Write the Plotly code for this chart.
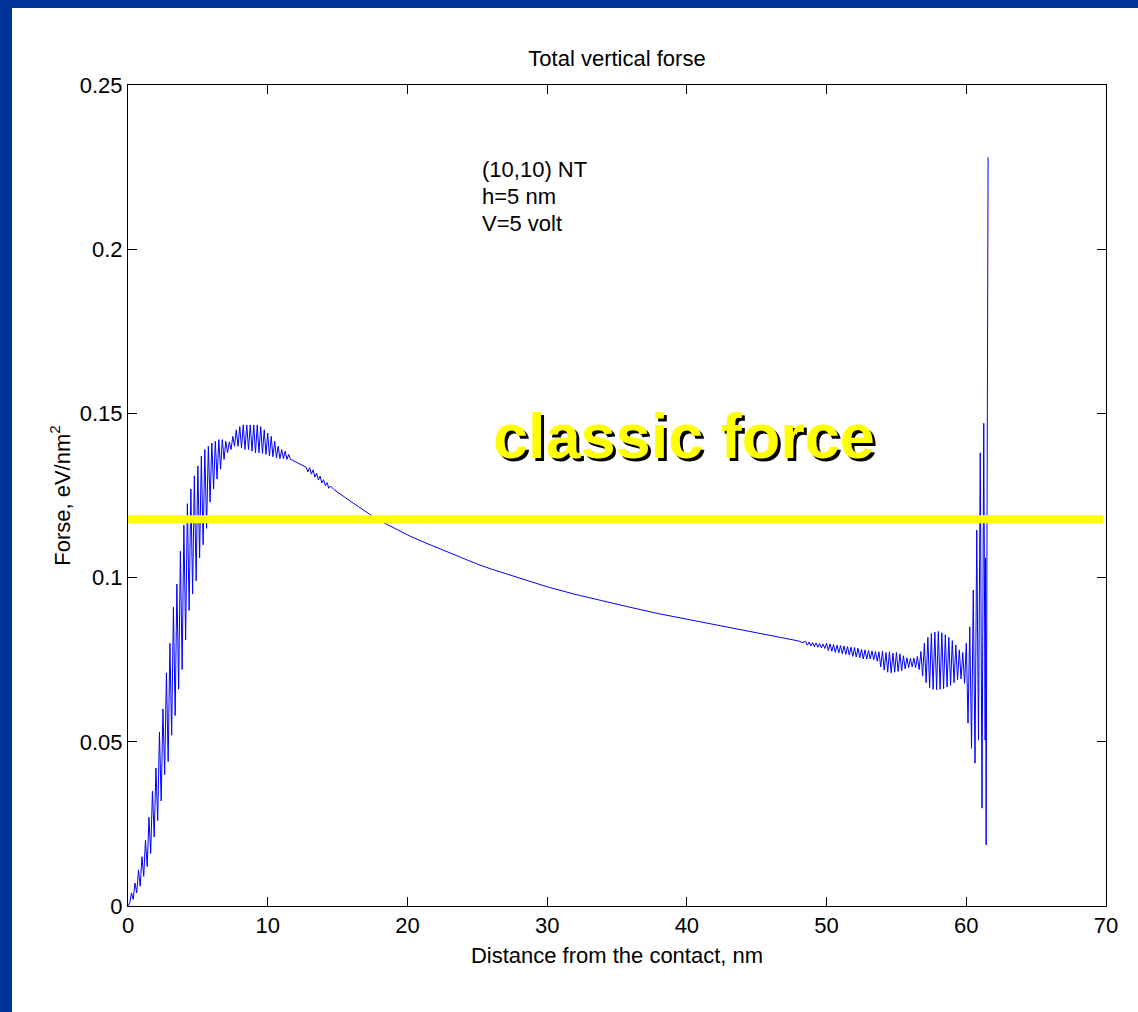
import plotly.graph_objects as go

# ---------------- data ----------------
distance_nm = [
    0.000, 0.125, 0.250, 0.375, 0.500, 0.625, 0.750, 0.875, 1.000, 1.125,
    1.250, 1.375, 1.500, 1.625, 1.750, 1.875, 2.000, 2.125, 2.250, 2.375,
    2.500, 2.625, 2.750, 2.875, 3.000, 3.125, 3.250, 3.375, 3.500, 3.625,
    3.750, 3.875, 4.000, 4.125, 4.250, 4.375, 4.500, 4.625, 4.750, 4.875,
    5.000, 5.125, 5.250, 5.375, 5.500, 5.625, 5.750, 5.875, 6.000, 6.125,
    6.250, 6.375, 6.500, 6.625, 6.750, 6.875, 7.000, 7.125, 7.250, 7.375,
    7.500, 7.625, 7.750, 7.875, 8.000, 8.125, 8.250, 8.375, 8.500, 8.625,
    8.750, 8.875, 9.000, 9.125, 9.250, 9.375, 9.500, 9.625, 9.750, 9.875,
    10.000, 10.125, 10.250, 10.375, 10.500, 10.625, 10.750, 10.875, 11.000,
    11.125, 11.250, 11.375, 11.500, 11.625, 11.750, 12.000, 12.250, 12.500,
    12.750, 12.875, 13.000, 13.125, 13.250, 13.375, 13.500, 13.625, 13.750,
    13.875, 14.000, 14.125, 14.250, 14.375, 14.500, 14.750, 15.000, 15.500,
    16.000, 16.500, 17.000, 17.500, 18.000, 19.000, 20.000, 21.000, 22.000,
    23.000, 24.000, 25.000, 26.000, 27.000, 28.000, 30.000, 32.000, 34.000,
    36.000, 38.000, 40.000, 42.000, 44.000, 45.000, 46.000, 47.000, 47.500,
    48.000, 48.250,
    48.500, 48.625, 48.750, 48.875, 49.000, 49.125, 49.250, 49.375, 49.500,
    49.625, 49.750, 49.875, 50.000, 50.125, 50.250, 50.375, 50.500, 50.625,
    50.750, 50.875, 51.000, 51.125, 51.250, 51.375, 51.500, 51.625, 51.750,
    51.875, 52.000, 52.125, 52.250, 52.375, 52.500, 52.625, 52.750, 52.875,
    53.000, 53.125, 53.250, 53.375, 53.500, 53.625, 53.750, 53.875, 54.000,
    54.125, 54.250, 54.375, 54.500, 54.625, 54.750, 54.875, 55.000, 55.125,
    55.250, 55.375, 55.500, 55.625, 55.750, 55.875, 56.000, 56.125, 56.250,
    56.375, 56.500, 56.625, 56.750, 56.875, 57.000, 57.125, 57.250, 57.375,
    57.500, 57.625, 57.750, 57.875, 58.000, 58.125, 58.250, 58.375, 58.500,
    58.625, 58.750, 58.875, 59.000, 59.125, 59.250, 59.375, 59.500, 59.625,
    59.750, 59.875, 60.000, 60.125, 60.250, 60.375, 60.500, 60.625, 60.750,
    60.875, 61.000, 61.125, 61.250, 61.350, 61.380, 61.420, 61.500, 61.530,
    61.560,
]

force = [
    0.0000, 0.0010, 0.0040, 0.0020, 0.0070, 0.0040, 0.0110, 0.0060, 0.0150, 0.0090,
    0.0200, 0.0120, 0.0270, 0.0160, 0.0350, 0.0210, 0.0420, 0.0260, 0.0530, 0.0320,
    0.0600, 0.0400, 0.0710, 0.0440, 0.0800, 0.0520, 0.0910, 0.0580, 0.0980, 0.0660,
    0.1080, 0.0720, 0.1160, 0.0810, 0.1225, 0.0900, 0.1270, 0.0950, 0.1310, 0.0990,
    0.1340, 0.1060, 0.1370, 0.1100, 0.1390, 0.1150, 0.1400, 0.1230, 0.1410, 0.1270,
    0.1415, 0.1300, 0.1420, 0.1330, 0.1420, 0.1360, 0.1415, 0.1380, 0.1413, 0.1390,
    0.1430, 0.1400, 0.1450, 0.1400, 0.1460, 0.1395, 0.1465, 0.1390, 0.1465, 0.1390,
    0.1465, 0.1385, 0.1465, 0.1380, 0.1465, 0.1380, 0.1460, 0.1378, 0.1450, 0.1375,
    0.1440, 0.1370, 0.1430, 0.1368, 0.1415, 0.1365, 0.1400, 0.1362, 0.1390,
    0.1362, 0.1385, 0.1360, 0.1375, 0.1360, 0.1358, 0.1352, 0.1346, 0.1340,
    0.1336, 0.1322, 0.1335, 0.1315, 0.1328, 0.1306, 0.1318, 0.1297, 0.1309,
    0.1288, 0.1298, 0.1280, 0.1289, 0.1272, 0.1279, 0.1268, 0.1260, 0.1245,
    0.1230, 0.1216, 0.1201, 0.1187, 0.1174, 0.1151, 0.1130, 0.1111, 0.1093,
    0.1075, 0.1058, 0.1041, 0.1026, 0.1012, 0.0998, 0.0972, 0.0949, 0.0928,
    0.0909, 0.0890, 0.0873, 0.0857, 0.0840, 0.0831, 0.0823, 0.0815, 0.0811,
    0.0807, 0.0802,
    0.0806, 0.0794, 0.0804, 0.0792, 0.0802, 0.0790, 0.0801, 0.0788, 0.0799,
    0.0786, 0.0798, 0.0784, 0.0800, 0.0778, 0.0798, 0.0776, 0.0796, 0.0772,
    0.0794, 0.0771, 0.0793, 0.0768, 0.0792, 0.0766, 0.0790, 0.0764, 0.0788,
    0.0760, 0.0787, 0.0758, 0.0785, 0.0756, 0.0782, 0.0752, 0.0780, 0.0752,
    0.0778, 0.0752, 0.0777, 0.0750, 0.0775, 0.0745, 0.0774, 0.0728, 0.0776,
    0.0718, 0.0772, 0.0712, 0.0774, 0.0710, 0.0770, 0.0712, 0.0772, 0.0714,
    0.0768, 0.0716, 0.0762, 0.0722, 0.0756, 0.0726, 0.0754, 0.0728, 0.0755,
    0.0726, 0.0760, 0.0720, 0.0775, 0.0700, 0.0800, 0.0680, 0.0818, 0.0665,
    0.0830, 0.0660, 0.0834, 0.0658, 0.0836, 0.0660, 0.0832, 0.0662, 0.0826,
    0.0667, 0.0818, 0.0672, 0.0808, 0.0680, 0.0795, 0.0688, 0.0780, 0.0692,
    0.0772, 0.0678, 0.0800, 0.0557, 0.0850, 0.0480, 0.0962, 0.0435, 0.1145,
    0.0505, 0.1380, 0.0298, 0.1470, 0.0505, 0.1060, 0.0186, 0.1990, 0.2180,
    0.2280,
]

classic_force_level = 0.1178
classic_force_span = [0.0, 69.8]

x_ticks = [0, 10, 20, 30, 40, 50, 60, 70]
x_tick_labels = ["0", "10", "20", "30", "40", "50", "60", "70"]
y_ticks = [0, 0.05, 0.10, 0.15, 0.20, 0.25]
y_tick_labels = ["0", "0.05", "0.1", "0.15", "0.2", "0.25"]

title_text = "Total vertical forse"
x_title = "Distance from the contact, nm"
y_title = "Forse, eV/nm<sup>2</sup>"
info_lines = ["(10,10) NT", "h=5 nm", "V=5 volt"]
info_line_y = [0.2244, 0.2161, 0.2079]
big_label = "classic force"

# ---------------- figure ----------------
W, H = 1138, 1012
ML, MR, MT, MB = 128, 32, 85, 106
PW, PH = W - ML - MR, H - MT - MB
FONT = "Arial, Liberation Sans, sans-serif"
FS = 22
BORDER = "#003399"

fig = go.Figure()
fig.add_trace(go.Scatter(
    x=distance_nm, y=force, mode="lines",
    line=dict(color="#0000ff", width=1),
    hoverinfo="skip", showlegend=False,
))
fig.add_trace(go.Scatter(
    x=classic_force_span, y=[classic_force_level, classic_force_level],
    mode="lines", line=dict(color="#ffff00", width=8),
    hoverinfo="skip", showlegend=False,
))


def px_x(p):
    return (p - ML) / PW


def px_y(p):
    return 1 - (p - MT) / PH


shapes = [
    # left slide border
    dict(type="rect", xref="paper", yref="paper",
         x0=px_x(0), x1=px_x(12), y0=px_y(H), y1=px_y(0),
         fillcolor=BORDER, line=dict(width=0), layer="below"),
    # top slide border
    dict(type="rect", xref="paper", yref="paper",
         x0=px_x(0), x1=px_x(W), y0=px_y(8), y1=px_y(0),
         fillcolor=BORDER, line=dict(width=0), layer="below"),
]

annotations = []
for txt, yy in zip(info_lines, info_line_y):
    annotations.append(dict(
        x=25.2, y=yy, xref="x", yref="y", text=txt, showarrow=False,
        xanchor="left", yanchor="middle", align="left",
        font=dict(family=FONT, size=FS, color="black")))

annotations += [
    dict(x=39.8, y=0.1432, xref="x", yref="y", text="<b>" + big_label + "</b>",
         showarrow=False, xanchor="center", yanchor="middle", xshift=3, yshift=-3,
         font=dict(family=FONT, size=63, color="black")),
    dict(x=39.8, y=0.1432, xref="x", yref="y", text="<b>" + big_label + "</b>",
         showarrow=False, xanchor="center", yanchor="middle",
         font=dict(family=FONT, size=63, color="#ffff00")),
]

axis_common = dict(
    showline=True, linecolor="black", linewidth=1, mirror="ticks",
    ticks="inside", ticklen=9, tickcolor="black", tickwidth=1,
    showgrid=False, zeroline=False,
    tickfont=dict(family=FONT, size=FS, color="black"),
)

fig.update_layout(
    width=W, height=H, autosize=False,
    margin=dict(l=ML, r=MR, t=MT, b=MB, pad=0),
    paper_bgcolor="white", plot_bgcolor="white",
    hovermode=False,
    title=dict(text=title_text, x=(ML + PW / 2) / W, xanchor="center",
               y=1 - 58 / H, yanchor="middle", yref="container",
               font=dict(family=FONT, size=FS, color="black")),
    xaxis=dict(range=[0, 70], tickvals=x_ticks, ticktext=x_tick_labels,
               title=dict(text=x_title, standoff=10,
                          font=dict(family=FONT, size=FS, color="black")),
               **axis_common),
    yaxis=dict(range=[0, 0.25], tickvals=y_ticks, ticktext=y_tick_labels,
               title=dict(text=y_title, standoff=3,
                          font=dict(family=FONT, size=FS, color="black")),
               **axis_common),
    shapes=shapes,
    annotations=annotations,
)

fig.write_html(
    "out.html",
    config={"displayModeBar": False},
    post_script="document.body.style.margin='0';document.body.style.overflow='hidden';",
)
